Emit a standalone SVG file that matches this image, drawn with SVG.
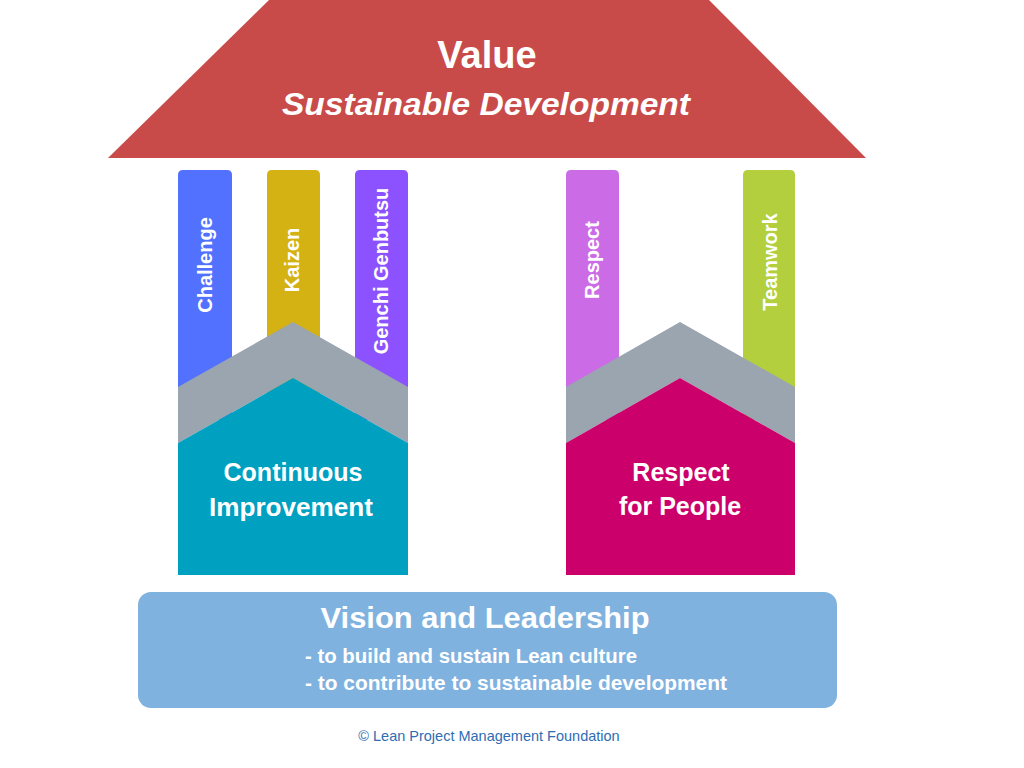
<svg xmlns="http://www.w3.org/2000/svg" width="1024" height="768" viewBox="0 0 1024 768">
<style>
.t{font-family:"Liberation Sans",Arial,sans-serif;font-weight:bold;fill:#ffffff}
.pl{font-size:20px;text-anchor:middle}
.hs{font-size:25px;text-anchor:middle}
.copy{font-family:"Liberation Sans",Arial,sans-serif;font-size:14.5px;fill:#2F6DB3;text-anchor:middle}
.chev{fill:#9AA5AF}
</style>
<rect width="1024" height="768" fill="#ffffff"/>
<g id="roof">
<polygon points="269,0 709,0 866,158 108,158" fill="#C84B4A"/>
<text class="t" x="487" y="68" font-size="38" text-anchor="middle">Value</text>
<text class="t" x="282" y="115" font-size="31" font-style="italic" textLength="408" lengthAdjust="spacingAndGlyphs">Sustainable Development</text>
</g>
<g id="pillar-challenge">
<path d="M178,420 V175 Q178,170 183,170 H227 Q232,170 232,175 V420 Z" fill="#5271FF"/>
<text class="t pl" transform="translate(205,265) rotate(-90)" y="7">Challenge</text>
</g>
<g id="pillar-kaizen">
<path d="M267,420 V175 Q267,170 272,170 H315 Q320,170 320,175 V420 Z" fill="#D4B213"/>
<text class="t pl" transform="translate(292,260) rotate(-90)" y="7">Kaizen</text>
</g>
<g id="pillar-genchi">
<path d="M355,420 V175 Q355,170 360,170 H403 Q408,170 408,175 V420 Z" fill="#8C52FF"/>
<text class="t pl" transform="translate(381,271) rotate(-90)" y="7">Genchi Genbutsu</text>
</g>
<g id="pillar-respect">
<path d="M566,420 V175 Q566,170 571,170 H614 Q619,170 619,175 V420 Z" fill="#CB6CE6"/>
<text class="t pl" transform="translate(592,260) rotate(-90)" y="7">Respect</text>
</g>
<g id="pillar-teamwork">
<path d="M743,420 V175 Q743,170 748,170 H790 Q795,170 795,175 V420 Z" fill="#B3CF3E"/>
<text class="t pl" transform="translate(770,262) rotate(-90)" y="7">Teamwork</text>
</g>
<g id="house-continuous">
<polygon class="chev" points="178,387 293,322 408,387 408,443 293,378 178,443"/>
<polygon points="178,443 293,378 408,443 408,575 178,575" fill="#00A0C1"/>
<text class="t hs" x="293" y="481" textLength="139" lengthAdjust="spacingAndGlyphs">Continuous</text>
<text class="t hs" x="291" y="516" textLength="164" lengthAdjust="spacingAndGlyphs">Improvement</text>
</g>
<g id="house-respect">
<polygon class="chev" points="566,387 680,322 795,387 795,443 680,378 566,443"/>
<polygon points="566,443 680,378 795,443 795,575 566,575" fill="#CC006B"/>
<text class="t hs" x="681" y="481">Respect</text>
<text class="t hs" x="680" y="515">for People</text>
</g>
<g id="foundation">
<rect x="138" y="592" width="699" height="116" rx="13" fill="#7FB2DF"/>
<text class="t" x="485" y="628" font-size="30" text-anchor="middle" textLength="329" lengthAdjust="spacingAndGlyphs">Vision and Leadership</text>
<text class="t" x="305" y="663" font-size="20" textLength="332" lengthAdjust="spacingAndGlyphs">- to build and sustain Lean culture</text>
<text class="t" x="305" y="690" font-size="20" textLength="422" lengthAdjust="spacingAndGlyphs">- to contribute to sustainable development</text>
</g>
<g id="copyright">
<text class="copy" x="489" y="741">© Lean Project Management Foundation</text>
</g>
<g id="connectors"></g>
</svg>
